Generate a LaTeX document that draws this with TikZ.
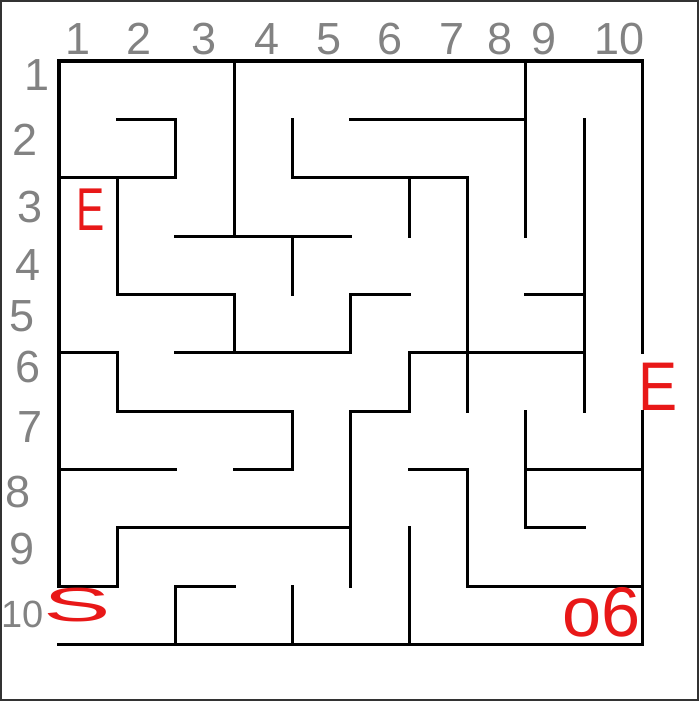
\documentclass[tikz,border=0pt]{standalone}
\usepackage{fontspec}
\setmainfont{Liberation Sans}
\usepackage{tikz}
\usetikzlibrary{positioning}
\usepackage{xcolor}
\definecolor{inkred}{RGB}{232, 24, 24}
\definecolor{pencilgray}{RGB}{130, 130, 130}

\tikzset{
  wall/.style={line width=2.2pt, line cap=rect, line join=miter},
  gridnum/.style={pencilgray, font=\fontsize{32}{34}\selectfont, inner sep=0pt},
  redmark/.style={inkred, inner sep=0pt}
}

\begin{document}
\begin{tikzpicture}[x=1.459cm, y=-1.459cm]
        \useasboundingbox (-1.011,-1.045) rectangle (10.969,10.966);
        \draw[black!80, line width=1.4pt] (-0.994,-1.028) rectangle (10.952,10.949);
        % outer walls
        \draw[wall] (0,9) -- (0,0) -- (10,0) -- (10,5);
        \draw[wall] (10,6) -- (10,10) -- (0,10);
        % inner walls
        \foreach \p in {
            {(3,0) -- (3,3)},
            {(1,1) -- (2,1) -- (2,2) -- (0,2)},
            {(1,2) -- (1,4) -- (3,4) -- (3,5)},
            {(2,3) -- (5,3)}, {(4,3) -- (4,4)},
            {(2,5) -- (5,5) -- (5,4) -- (6,4)},
            {(4,1) -- (4,2) -- (7,2) -- (7,6)},
            {(5,1) -- (8,1)}, {(8,0) -- (8,3)}, {(9,1) -- (9,6)},
            {(6,2) -- (6,3)}, {(8,4) -- (9,4)}, {(6,5) -- (9,5)},
            {(6,5) -- (6,6) -- (5,6) -- (5,9)},
            {(0,5) -- (1,5) -- (1,6) -- (4,6) -- (4,7) -- (3,7)},
            {(0,7) -- (2,7)},
            {(0,9) -- (1,9) -- (1,8) -- (5,8)},
            {(2,10) -- (2,9) -- (3,9)}, {(4,9) -- (4,10)},
            {(8,6) -- (8,8) -- (9,8)}, {(8,7) -- (10,7)},
            {(6,7) -- (7,7) -- (7,9) -- (10,9)},
            {(6,8) -- (6,10)}} {
          \draw[wall] \p;
        }
        % column numbers
        \foreach \x/\lbl [count=\i] in {0.33/1, 1.37/2, 2.48/3, 3.56/4, 4.63/5,
                                         5.67/6, 6.74/7, 7.56/8, 8.31/9, 9.61/10} {
          \node[gridnum] (col\i) at (\x,-0.38) {\lbl};
        }
        % row numbers
        \foreach \x/\y/\lbl [count=\i] in {-0.38/0.24/1, -0.58/1.35/2, -0.5/2.5/3,
                                            -0.53/3.49/4, -0.63/4.38/5, -0.53/5.24/6,
                                            -0.5/6.28/7, -0.7/7.38/8, -0.63/8.37/9} {
          \node[gridnum] (row\i) at (\x,\y) {\lbl};
        }
        \node[gridnum, font=\fontsize{27}{29}\selectfont] (row10) at (-0.63,9.49) {10};
        % start / end marks
        \node[redmark, font=\fontsize{43}{45}\selectfont, xscale=0.7] (endA) at (0.55,2.55) {E};
        \node[redmark, font=\fontsize{49}{50}\selectfont, xscale=0.85] (endB) at (10.27,5.58) {E};
        \node[redmark, font=\fontsize{40}{42}\selectfont, xscale=1.8, yscale=0.85] (start) at (0.31,9.32) {S};
        \node[redmark, font=\fontsize{50}{52}\selectfont] (mark) at (9.3,9.45) {o6};
      \end{tikzpicture}
\end{document}
